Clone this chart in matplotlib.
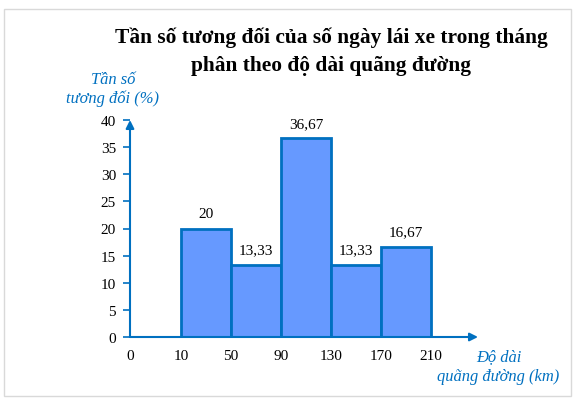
import matplotlib
matplotlib.use("Agg")
import matplotlib.pyplot as plt
from matplotlib.patches import Rectangle

# Data
bin_labels = ["0", "10", "50", "90", "130", "170", "210"]
freq = [20, 13.33, 36.67, 13.33, 16.67]
freq_text = ["20", "13,33", "36,67", "13,33", "16,67"]
y_ticks = [0, 5, 10, 15, 20, 25, 30, 35, 40]

W, H = 581, 406
axis_blue = "#0070C0"
bar_fill = "#6699FF"

plt.rcParams["font.family"] = ["Liberation Serif", "DejaVu Serif"]

fig = plt.figure(figsize=(W / 100, H / 100), dpi=100)

def fx(px):
    return px / W

def fy(py):
    return 1 - py / H

# frame around the picture
fig.patches.append(Rectangle((fx(4), fy(397)), fx(571) - fx(4), fy(10) - fy(397),
                             transform=fig.transFigure, fill=False,
                             edgecolor="#d9d9d9", linewidth=1))

# axes: origin at (130, 338), x arrow to 478, y=40 at 121
x0, y0 = 130, 338
ax = fig.add_axes([fx(x0), fy(y0), (478 - x0) / W, (y0 - 121) / H])
step = 50.0
ax.set_xlim(0, (478 - x0) / step)
ax.set_ylim(0, 40)
ax.patch.set_alpha(0)

# bars (bin i sits between tick i+1 and i+2; first gap 0->10 is broken axis)
pos = [i + 1 + 0.5 + (1.0 / step) for i in range(len(freq))]
ax.bar(pos, freq, width=1.0, color=bar_fill, edgecolor=axis_blue, linewidth=2,
       zorder=3)
for p, v, t in zip(pos, freq, freq_text):
    ax.text(p, v + 1.5, t, ha="center", va="bottom", fontsize=11)

for s in ax.spines.values():
    s.set_visible(False)

# axis arrows
ax.annotate("", xy=(1, 0), xytext=(0, 0), xycoords="axes fraction",
            arrowprops=dict(arrowstyle="-|>", color=axis_blue, lw=1.5,
                            mutation_scale=12, shrinkA=0, shrinkB=0))
ax.annotate("", xy=(0, 1.0), xytext=(0, 0), xycoords="axes fraction",
            arrowprops=dict(arrowstyle="-|>", color=axis_blue, lw=1.5,
                            mutation_scale=12, shrinkA=0, shrinkB=0))

ax.set_yticks(y_ticks)
ax.set_yticklabels([str(t) for t in y_ticks])
ax.tick_params(axis="y", length=5, width=1.2, color=axis_blue, labelsize=11,
               pad=5)
xt = [0] + [i + 1 + 1.0 / step for i in range(len(bin_labels) - 1)]
ax.set_xticks(xt)
ax.set_xticklabels(bin_labels)
ax.tick_params(axis="x", length=0, labelsize=11, pad=9)

# title
fig.text(fx(331), fy(38), "Tần số tương đối của số ngày lái xe trong tháng",
         ha="center", va="center", fontsize=15.4, fontweight="bold")
fig.text(fx(331), fy(66), "phân theo độ dài quãng đường",
         ha="center", va="center", fontsize=15.4, fontweight="bold")

# axis labels
fs_lab = 11.9
fig.text(fx(113), fy(80), "Tần số", ha="center", va="center", fontsize=fs_lab,
         style="italic", color=axis_blue)
fig.text(fx(112), fy(99), "tương đối (%)", ha="center", va="center",
         fontsize=fs_lab, style="italic", color=axis_blue)
fig.text(fx(499), fy(357), "Độ dài", ha="center", va="center", fontsize=fs_lab,
         style="italic", color=axis_blue)
fig.text(fx(498), fy(377), "quãng đường (km)", ha="center", va="center",
         fontsize=fs_lab, style="italic", color=axis_blue)

fig.savefig("out.png", dpi=100)
